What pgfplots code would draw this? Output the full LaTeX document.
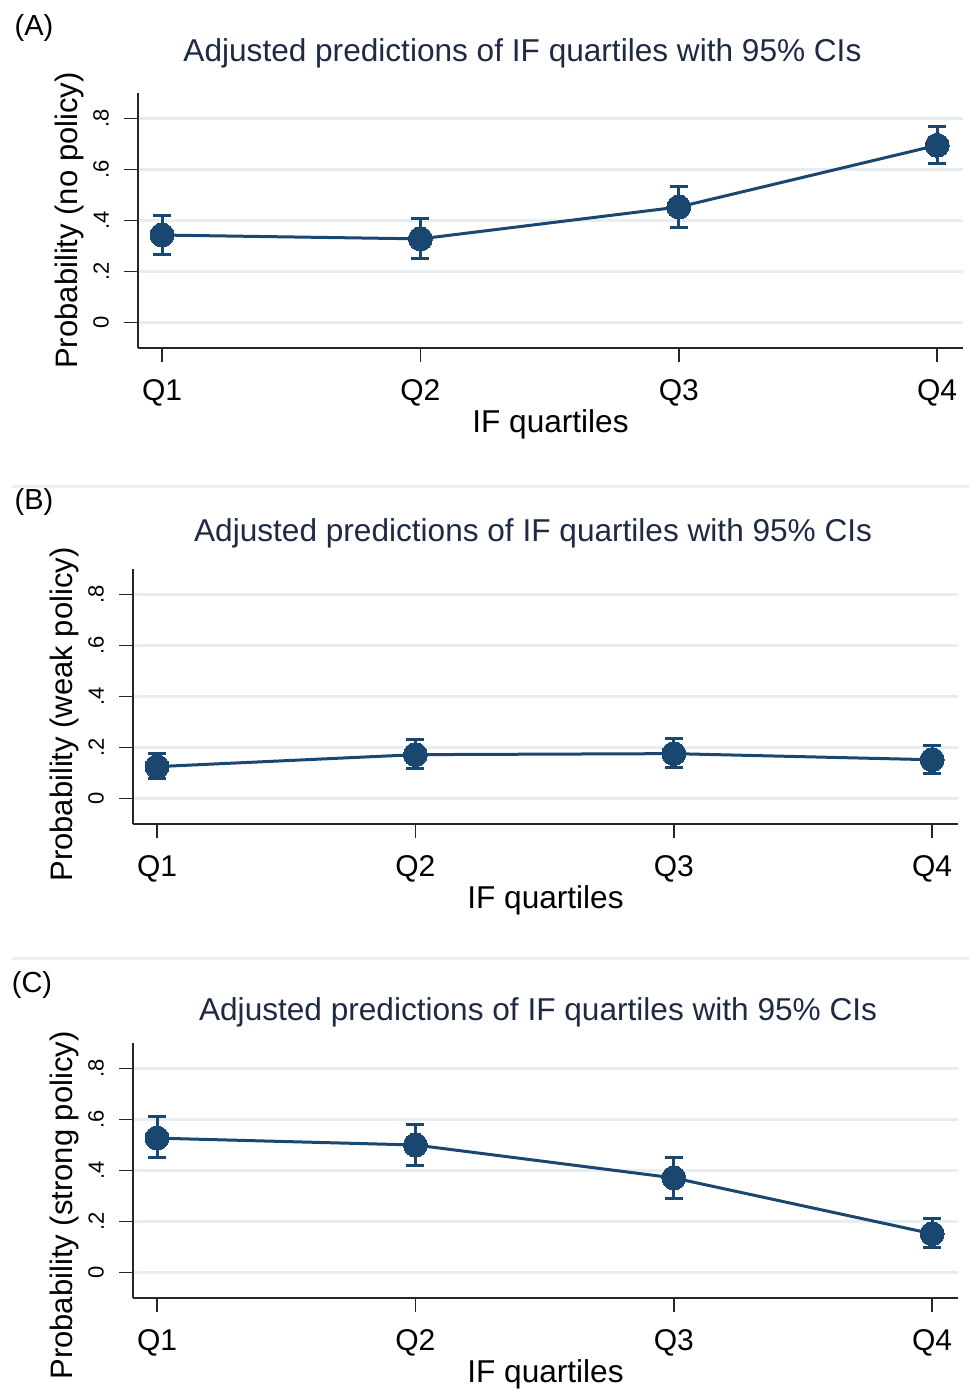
\documentclass[border=0pt]{standalone}
\usepackage{pgfplots}
\pgfplotsset{compat=1.18}
\usepackage{fontspec}
\setmainfont{Liberation Sans}
\definecolor{stnavy}{HTML}{1A476F}
\definecolor{gridc}{HTML}{E6EEF1}
\definecolor{titc}{HTML}{1E2A44}
\pgfplotsset{
  panel/.style={
    scale only axis, width=412.5pt, height=127.5pt,
    xmin=0.907, xmax=4.1, ymin=-0.1, ymax=0.9,
    axis x line*=bottom, axis y line*=left,
    axis line style={line width=1pt, color=black!85},
    xtick={1,2,3,4}, xticklabels={Q1,Q2,Q3,Q4},
    ytick={0,0.2,0.4,0.6,0.8}, yticklabels={0,.2,.4,.6,.8},
    tick align=outside, major tick length=7pt,
    tick style={line width=0.8pt, color=black!85},
    xticklabel style={font=\fontsize{15}{17}\selectfont},
    xticklabel shift=5pt,
    yticklabel style={font=\fontsize{11}{13}\selectfont, rotate=90, anchor=south},
    yticklabel shift=4pt,
    ymajorgrids, grid style={gridc, line width=1.5pt},
    xlabel={IF quartiles},
    xlabel style={font=\fontsize{15.8}{18}\selectfont, yshift=5pt},
    ylabel style={font=\fontsize{15.5}{17}\selectfont, yshift=-2pt},
    title style={font=\fontsize{15.8}{18}\selectfont, color=titc},
    clip=false,
  },
  series/.style={
    color=stnavy, line width=1.5pt, mark=*, mark size=6pt,
    mark options={fill=stnavy, draw=stnavy, line width=0pt},
    error bars/.cd, y dir=both, y explicit,
    error bar style={line width=1.5pt, color=stnavy},
    error mark options={rotate=90, mark size=4.5pt, line width=1.5pt, color=stnavy},
  },
}
\begin{document}
\begin{tikzpicture}
\useasboundingbox (0,0) rectangle (484.5pt,-694.5pt);
% separators
\draw[gridc!80!white, line width=1.5pt] (6pt,-243pt) -- (484.5pt,-243pt);
\draw[gridc!80!white, line width=1.5pt] (6pt,-479pt) -- (484.5pt,-479pt);
\node[font=\fontsize{14.5}{16}\selectfont] at (17pt,-14pt) {(A)};
\node[font=\fontsize{14.5}{16}\selectfont] at (17pt,-251pt) {(B)};
\node[font=\fontsize{14.5}{16}\selectfont] at (16pt,-492.5pt) {(C)};
% Panel A
\begin{axis}[panel, at={(69pt,-174pt)}, anchor=south west,
  ylabel={Probability (no policy)},
  title={Adjusted predictions of IF quartiles with 95\% CIs},
  title style={at={(axis description cs:0.466,1.075)}, anchor=base}]
\addplot+[series] coordinates {
  (1,0.343) += (0,0.078) -= (0,0.076)
  (2,0.328) += (0,0.078) -= (0,0.078)
  (3,0.453) += (0,0.082) -= (0,0.080)
  (4,0.695) += (0,0.074) -= (0,0.072)
};
\end{axis}
% Panel B
\begin{axis}[panel, at={(66.5pt,-412pt)}, anchor=south west,
  ylabel={Probability (weak policy)},
  ylabel style={xshift=-9pt},
  title={Adjusted predictions of IF quartiles with 95\% CIs},
  title style={at={(axis description cs:0.485,1.059)}, anchor=base}]
\addplot+[series] coordinates {
  (1,0.125) += (0,0.050) -= (0,0.047)
  (2,0.172) += (0,0.060) -= (0,0.054)
  (3,0.176) += (0,0.060) -= (0,0.056)
  (4,0.152) += (0,0.054) -= (0,0.055)
};
\end{axis}
% Panel C
\begin{axis}[panel, at={(66.5pt,-649pt)}, anchor=south west,
  ylabel={Probability (strong policy)},
  ylabel style={xshift=-17.5pt},
  title={Adjusted predictions of IF quartiles with 95\% CIs},
  title style={at={(axis description cs:0.491,1.043)}, anchor=base}]
\addplot+[series] coordinates {
  (1,0.527) += (0,0.083) -= (0,0.077)
  (2,0.500) += (0,0.080) -= (0,0.080)
  (3,0.371) += (0,0.079) -= (0,0.081)
  (4,0.152) += (0,0.058) -= (0,0.054)
};
\end{axis}
\end{tikzpicture}
\end{document}
